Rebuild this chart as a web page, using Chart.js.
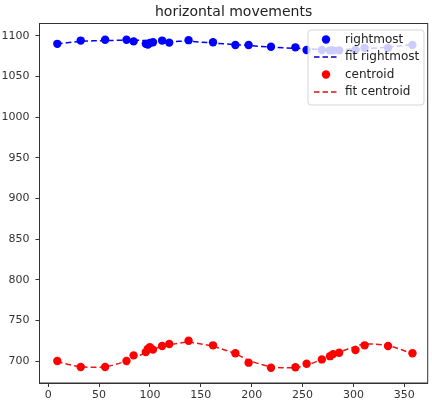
<!DOCTYPE html>
<html>
<head>
<meta charset="utf-8">
<script src="https://cdn.jsdelivr.net/npm/chart.js@4/dist/chart.umd.min.js"></script>
<style>
  html, body { margin: 0; padding: 0; background: #fff; }
  #wrap { width: 432px; height: 401px; }
</style>
</head>
<body>
<div id="wrap"><canvas id="movesChart" width="432" height="401"></canvas></div>
<script>
// angle positions (same for both series)
const angles = [9, 32, 56, 77, 84, 96, 98, 100, 103, 112, 119, 138, 162, 184, 197, 219, 243, 254, 269, 277, 280, 286, 302, 311, 334, 358];
const rightmost = [1090, 1094, 1095, 1095, 1093, 1090, 1089, 1091, 1092, 1094, 1091.5, 1094.5, 1092, 1088.5, 1088.5, 1086.5, 1085.7, 1082.5, 1082.5, 1082, 1082, 1082, 1082.5, 1085, 1085, 1088.5];
const fitRightmost = [1090, 1093, 1094, 1094.5, 1094.5, 1094, 1094, 1094, 1094, 1093.5, 1093, 1093, 1091, 1089, 1088, 1086, 1084.5, 1084, 1083, 1083, 1083, 1083, 1083.5, 1084, 1086, 1089];
const centroid = [700, 692.6, 692.6, 700, 707, 711, 715, 717, 714, 718.5, 721, 725, 719.3, 709.5, 698, 691.8, 692.3, 696.7, 702, 706, 708.5, 710.2, 713.5, 719.3, 718.5, 709.5];
const fitCentroid = [699, 693, 693, 700, 704, 710, 711, 712, 714, 718, 720, 723, 718, 709, 701, 693, 692, 695, 702, 706, 708, 711, 718, 721, 719, 709];
const xTicks = [0, 50, 100, 150, 200, 250, 300, 350];
const yTicks = [700, 750, 800, 850, 900, 950, 1000, 1050, 1100];
const legendLabels = ['rightmost', 'fit rightmost', 'centroid', 'fit centroid'];

const blue = '#0000ff';
const red = '#ff0000';
const font = 'DejaVu Sans';

function pts(ys) {
    return angles.map((a, i) => ({x: a, y: ys[i]}));
}

// frame, title and the matplotlib style legend
const extras = {
    id: 'extras',
    afterDraw(chart) {
        const c = chart.ctx;
        const a = chart.chartArea;
        c.save();
        c.strokeStyle = '#333';
        c.lineWidth = 1;
        c.strokeRect(a.left, a.top, a.right - a.left, a.bottom - a.top);

        c.fillStyle = '#222';
        c.font = '14px "' + font + '"';
        c.textAlign = 'center';
        c.textBaseline = 'middle';
        c.fillText('horizontal movements', (a.left + a.right) / 2, 12);

        // legend box
        const bx = 308, by = 30, bw = 116, bh = 75;
        c.beginPath();
        c.roundRect(bx, by, bw, bh, 3);
        c.fillStyle = 'rgba(255,255,255,0.8)';
        c.fill();
        c.strokeStyle = 'rgba(204,204,204,0.8)';
        c.stroke();

        const rows = [39.5, 57, 74.5, 92];
        const colors = [blue, '#0000cc', red, '#dd1010'];
        c.font = '12px "' + font + '"';
        c.textAlign = 'left';
        for (let i = 0; i < 4; i++) {
            const y = rows[i];
            if (i % 2 == 0) {
                c.beginPath();
                c.arc(326, y, 4.2, 0, Math.PI * 2);
                c.fillStyle = colors[i];
                c.fill();
            } else {
                c.beginPath();
                c.setLineDash([5.5, 3]);
                c.strokeStyle = colors[i];
                c.lineWidth = 1.5;
                c.moveTo(314, y);
                c.lineTo(338, y);
                c.stroke();
                c.setLineDash([]);
            }
            c.fillStyle = '#222';
            c.fillText(legendLabels[i], 345, y);
        }
        c.restore();
    }
};

const ctx = document.getElementById('movesChart').getContext('2d');
const movesChart = new Chart(ctx, {
    type: 'scatter',
    data: {
        datasets: [
            {label: 'rightmost', data: pts(rightmost), backgroundColor: blue, borderWidth: 0, pointRadius: 4.2, showLine: false},
            {label: 'centroid', data: pts(centroid), backgroundColor: red, borderWidth: 0, pointRadius: 4.2, showLine: false},
            {label: 'fit rightmost', data: pts(fitRightmost), borderColor: blue, borderWidth: 1.5, borderDash: [5.5, 3], pointRadius: 0, showLine: true, tension: 0.3},
            {label: 'fit centroid', data: pts(fitCentroid), borderColor: '#e81818', borderWidth: 1.5, borderDash: [5.5, 3], pointRadius: 0, showLine: true, tension: 0.3}
        ]
    },
    options: {
        responsive: false,
        animation: false,
        events: [],
        layout: {padding: {top: 23.5, right: 4.3, left: 0, bottom: 0}},
        plugins: {
            legend: {display: false},
            tooltip: {enabled: false},
            title: {display: false}
        },
        scales: {
            x: {
                type: 'linear',
                min: -8.5,
                max: 373,
                afterBuildTicks: s => { s.ticks = xTicks.map(v => ({value: v})); },
                afterFit: s => { s.height = 18; },
                grid: {drawOnChartArea: false, drawTicks: true, tickLength: 4, color: '#333'},
                border: {color: '#333'},
                ticks: {color: '#333', padding: 2, maxRotation: 0, font: {family: font, size: 11}, callback: v => String(v)}
            },
            y: {
                type: 'linear',
                min: 673,
                max: 1115,
                afterBuildTicks: s => { s.ticks = yTicks.map(v => ({value: v})); },
                afterFit: s => { s.width = 39.5; },
                grid: {drawOnChartArea: false, drawTicks: true, tickLength: 4, color: '#333'},
                border: {color: '#333'},
                ticks: {color: '#333', padding: 6, font: {family: font, size: 11}, callback: v => String(v)}
            }
        }
    },
    plugins: [extras]
});
</script>
</body>
</html>
